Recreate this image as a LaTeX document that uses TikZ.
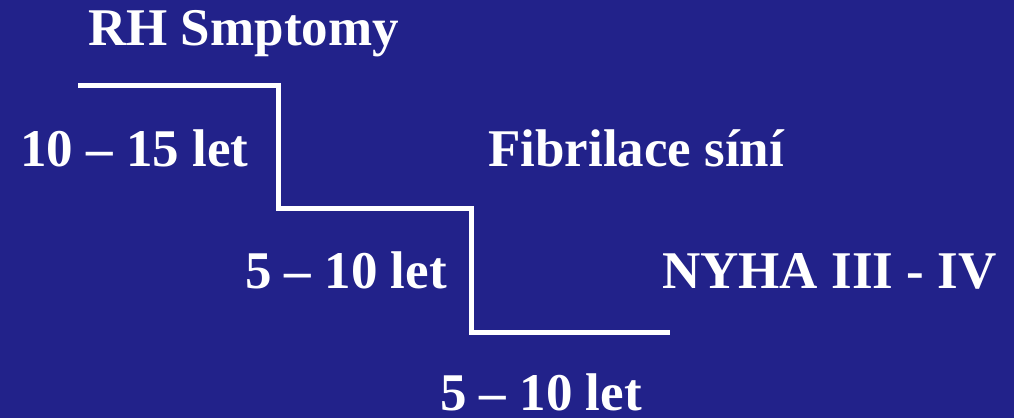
\documentclass[tikz,border=0pt]{standalone}
\usepackage{fontspec}
\setmainfont{Liberation Serif}
\definecolor{bgblue}{RGB}{34,34,138}
\begin{document}
\begin{tikzpicture}[x=1pt,y=-1pt,
  lbl/.style={anchor=base west,inner sep=0pt,text=white,font=\fontsize{53}{58}\selectfont\bfseries},
  stair/.style={draw=white,line width=5pt,line join=miter}]
\fill[bgblue] (0,0) rectangle (1014,418);
\useasboundingbox (0,0) rectangle (1014,418);
\node[lbl] (rh) at (88,45) {RH Smptomy};
\node[lbl] (a) at (20,166) {10 – 15 let};
\node[lbl] (fib) at (488,166) {Fibrilace síní};
\node[lbl] (b) at (245,288) {5 – 10 let};
\node[lbl] (nyha) at (662,288) {NYHA III - IV};
\node[lbl] (c) at (440,410) {5 – 10 let};
\coordinate (p0) at (78,85.5);
\coordinate (p1) at (278,85.5);
\coordinate (p2) at (278,208);
\coordinate (p3) at (471,208);
\coordinate (p4) at (471,332);
\coordinate (p5) at (670,332);
\draw[stair] (p0) -- (p1) -- (p2) -- (p3) -- (p4) -- (p5);
\end{tikzpicture}
\end{document}
